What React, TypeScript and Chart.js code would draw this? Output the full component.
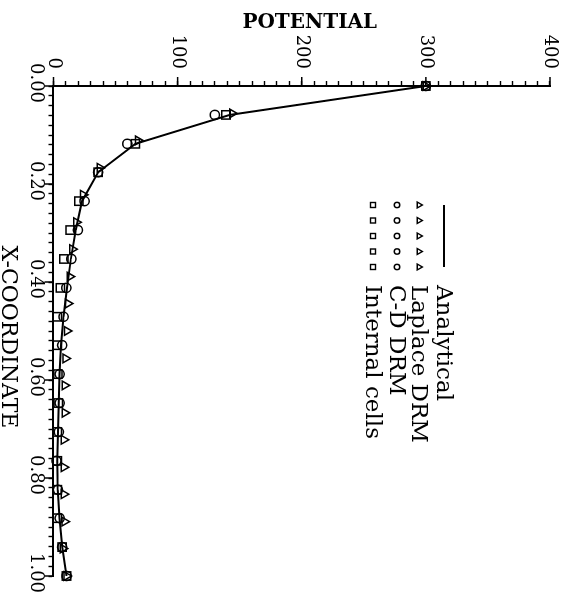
import React, { useEffect, useRef } from "react";
import { Chart, registerables } from "chart.js";

Chart.register(...registerables);

// X-coordinates of the cell / C-D DRM / analytical points
const xCells = [0, 0.059, 0.118, 0.176, 0.235, 0.294, 0.353, 0.412, 0.471, 0.529, 0.588, 0.647, 0.706, 0.765, 0.824, 0.882, 0.941, 1.0];
// X-coordinates of the Laplace DRM points
const xLaplace = [0, 0.056, 0.111, 0.167, 0.222, 0.278, 0.333, 0.389, 0.444, 0.5, 0.556, 0.611, 0.667, 0.722, 0.778, 0.833, 0.889, 0.944, 1.0];

const analytical = [300, 142, 66, 36, 23, 18, 14, 10.8, 8, 6, 4.9, 4.2, 3.6, 3.0, 3.4, 4.8, 7, 10.5];
const laplaceDRM = [300, 144, 68, 37.3, 23.8, 18.4, 15.2, 13, 11.6, 10.8, 9.7, 9, 9, 8.3, 8.3, 8.3, 8.9, 7.5, 10.5];
const cdDRM = [300, 130, 59.5, 36, 25, 19.7, 14.4, 10.3, 8.1, 7, 5, 5, 4.3, 2.4, 3.6, 5, 7, 10.5];
const internalCells = [300, 139, 66, 36, 20.5, 13.5, 8.3, 5.5, 3, 3, 3.5, 3.8, 3, 3, 3, 3, 7, 10.5];

const potentialMajorTicks = [0, 100, 200, 300, 400];
const xMajorTicks = [0, 0.2, 0.4, 0.6, 0.8, 1.0];
const legendLabels = ["Analytical", "Laplace DRM", "C-D DRM", "Internal cells"];
const xTitle = "X-COORDINATE";
const yTitle = "POTENTIAL";

const FONT = "'DejaVu Serif', serif";

const toPoints = (xs: number[], ys: number[]) => xs.map((x, i) => ({ x, y: ys[i] }));

const isMultiple = (v: number, step: number) => Math.abs(v / step - Math.round(v / step)) < 1e-6;

const decorPlugin = {
  id: "decor",
  afterDraw(chart: any) {
    const ctx: CanvasRenderingContext2D = chart.ctx;
    const { left, bottom, top, right } = chart.chartArea;
    const xs = chart.scales.x;
    const ys = chart.scales.y;
    ctx.save();
    ctx.strokeStyle = "#000";
    ctx.fillStyle = "#000";
    ctx.lineWidth = 1.5;
    // longer major tick marks
    potentialMajorTicks.forEach((v) => {
      const y = ys.getPixelForValue(v);
      ctx.beginPath();
      ctx.moveTo(left, y);
      ctx.lineTo(left - 9, y);
      ctx.stroke();
    });
    xMajorTicks.forEach((v) => {
      const x = xs.getPixelForValue(v);
      ctx.beginPath();
      ctx.moveTo(x, bottom);
      ctx.lineTo(x, bottom + 9);
      ctx.stroke();
    });

    // axis titles
    ctx.textAlign = "center";
    ctx.textBaseline = "middle";
    ctx.save();
    ctx.font = `bold 20px ${FONT}`;
    ctx.translate(22.5, (top + bottom) / 2 - 8);
    ctx.rotate(-Math.PI / 2);
    ctx.fillText(yTitle, 0, 0);
    ctx.restore();
    ctx.font = `22px ${FONT}`;
    ctx.fillText(xTitle, (left + right) / 2 + 6, 555);

    // legend
    const lx0 = 205;
    const lstep = 15.5;
    const rows = [119, 144, 166, 190];
    ctx.lineWidth = 2;
    ctx.beginPath();
    ctx.moveTo(lx0, rows[0]);
    ctx.lineTo(lx0 + 4 * lstep, rows[0]);
    ctx.stroke();
    ctx.lineWidth = 1.4;
    for (let i = 0; i < 5; i++) {
      const x = lx0 + i * lstep;
      // triangle
      let y = rows[1];
      const s = 3.4;
      ctx.beginPath();
      ctx.moveTo(x, y - s);
      ctx.lineTo(x + s * 0.866, y + s / 2);
      ctx.lineTo(x - s * 0.866, y + s / 2);
      ctx.closePath();
      ctx.stroke();
      // circle
      y = rows[2];
      ctx.beginPath();
      ctx.arc(x, y, 2.7, 0, Math.PI * 2);
      ctx.stroke();
      // square
      y = rows[3];
      ctx.strokeRect(x - 2.5, y - 2.5, 5, 5);
    }
    ctx.font = `23px ${FONT}`;
    ctx.textAlign = "left";
    legendLabels.forEach((t, i) => {
      ctx.fillText(t, 285, rows[i] + 1);
    });
    ctx.restore();
  },
};

export default function App() {
  const canvasRef = useRef<HTMLCanvasElement | null>(null);

  useEffect(() => {
    const canvas = canvasRef.current;
    if (!canvas) return;
    const chart = new Chart(canvas, {
      type: "line",
      data: {
        datasets: [
          {
            label: legendLabels[0],
            data: toPoints(xCells, analytical),
            borderColor: "#000",
            borderWidth: 2,
            pointRadius: 0,
            tension: 0,
            fill: false,
          },
          {
            label: legendLabels[1],
            data: toPoints(xLaplace, laplaceDRM),
            showLine: false,
            pointStyle: "triangle",
            pointRadius: 5,
            pointBorderWidth: 1.5,
            pointBorderColor: "#000",
            pointBackgroundColor: "rgba(0,0,0,0)",
            clip: false,
          },
          {
            label: legendLabels[2],
            data: toPoints(xCells, cdDRM),
            showLine: false,
            pointStyle: "circle",
            pointRadius: 4.6,
            pointBorderWidth: 1.5,
            pointBorderColor: "#000",
            pointBackgroundColor: "rgba(0,0,0,0)",
            clip: false,
          },
          {
            label: legendLabels[3],
            data: toPoints(xCells, internalCells),
            showLine: false,
            pointStyle: "rect",
            pointRadius: 5.9,
            pointBorderWidth: 1.5,
            pointBorderColor: "#000",
            pointBackgroundColor: "rgba(0,0,0,0)",
            clip: false,
          },
        ] as any,
      },
      options: {
        responsive: false,
        animation: false,
        devicePixelRatio: 1,
        layout: { padding: { top: 13, right: 19, bottom: 0, left: 0 } },
        plugins: { legend: { display: false }, tooltip: { enabled: false } },
        scales: {
          x: {
            type: "linear",
            position: "bottom",
            min: 0,
            max: 1,
            afterFit: (s: any) => {
              s.height = 53.5;
              s.paddingLeft = 0;
              s.paddingRight = 0;
            },
            grid: { drawOnChartArea: false, drawTicks: true, tickLength: 5, color: "#000", tickWidth: 1.4 },
            border: { display: true, color: "#000", width: 2 },
            ticks: {
              stepSize: 0.02,
              autoSkip: false,
              maxRotation: 0,
              minRotation: 0,
              padding: 2,
              labelOffset: -3,
              color: "#000",
              font: { family: FONT, size: 18 },
              callback: (v: any) => (isMultiple(Number(v), 0.2) ? Number(v).toFixed(2) : ""),
            },
          },
          y: {
            type: "linear",
            position: "left",
            min: 0,
            max: 400,
            afterFit: (s: any) => {
              s.width = 86;
              s.paddingTop = 0;
              s.paddingBottom = 0;
            },
            grid: { drawOnChartArea: false, drawTicks: true, tickLength: 5, color: "#000", tickWidth: 1.4 },
            border: { display: true, color: "#000", width: 2 },
            ticks: {
              stepSize: 10,
              autoSkip: false,
              padding: 12,
              color: "#000",
              font: { family: FONT, size: 18 },
              callback: (v: any) => (isMultiple(Number(v), 100) ? String(v) : ""),
            },
          },
        },
      } as any,
      plugins: [decorPlugin],
    });
    return () => chart.destroy();
  }, []);

  return (
    <div
      style={{
        position: "fixed",
        left: 0,
        top: 0,
        width: 563,
        height: 595,
        overflow: "hidden",
        background: "#fff",
      }}
    >
      <canvas
        ref={canvasRef}
        width={595}
        height={563}
        style={{
          position: "absolute",
          left: 0,
          top: 0,
          width: "595px",
          height: "563px",
          transform: "translate(563px, 0px) rotate(90deg)",
          transformOrigin: "0 0",
        }}
      />
    </div>
  );
}
